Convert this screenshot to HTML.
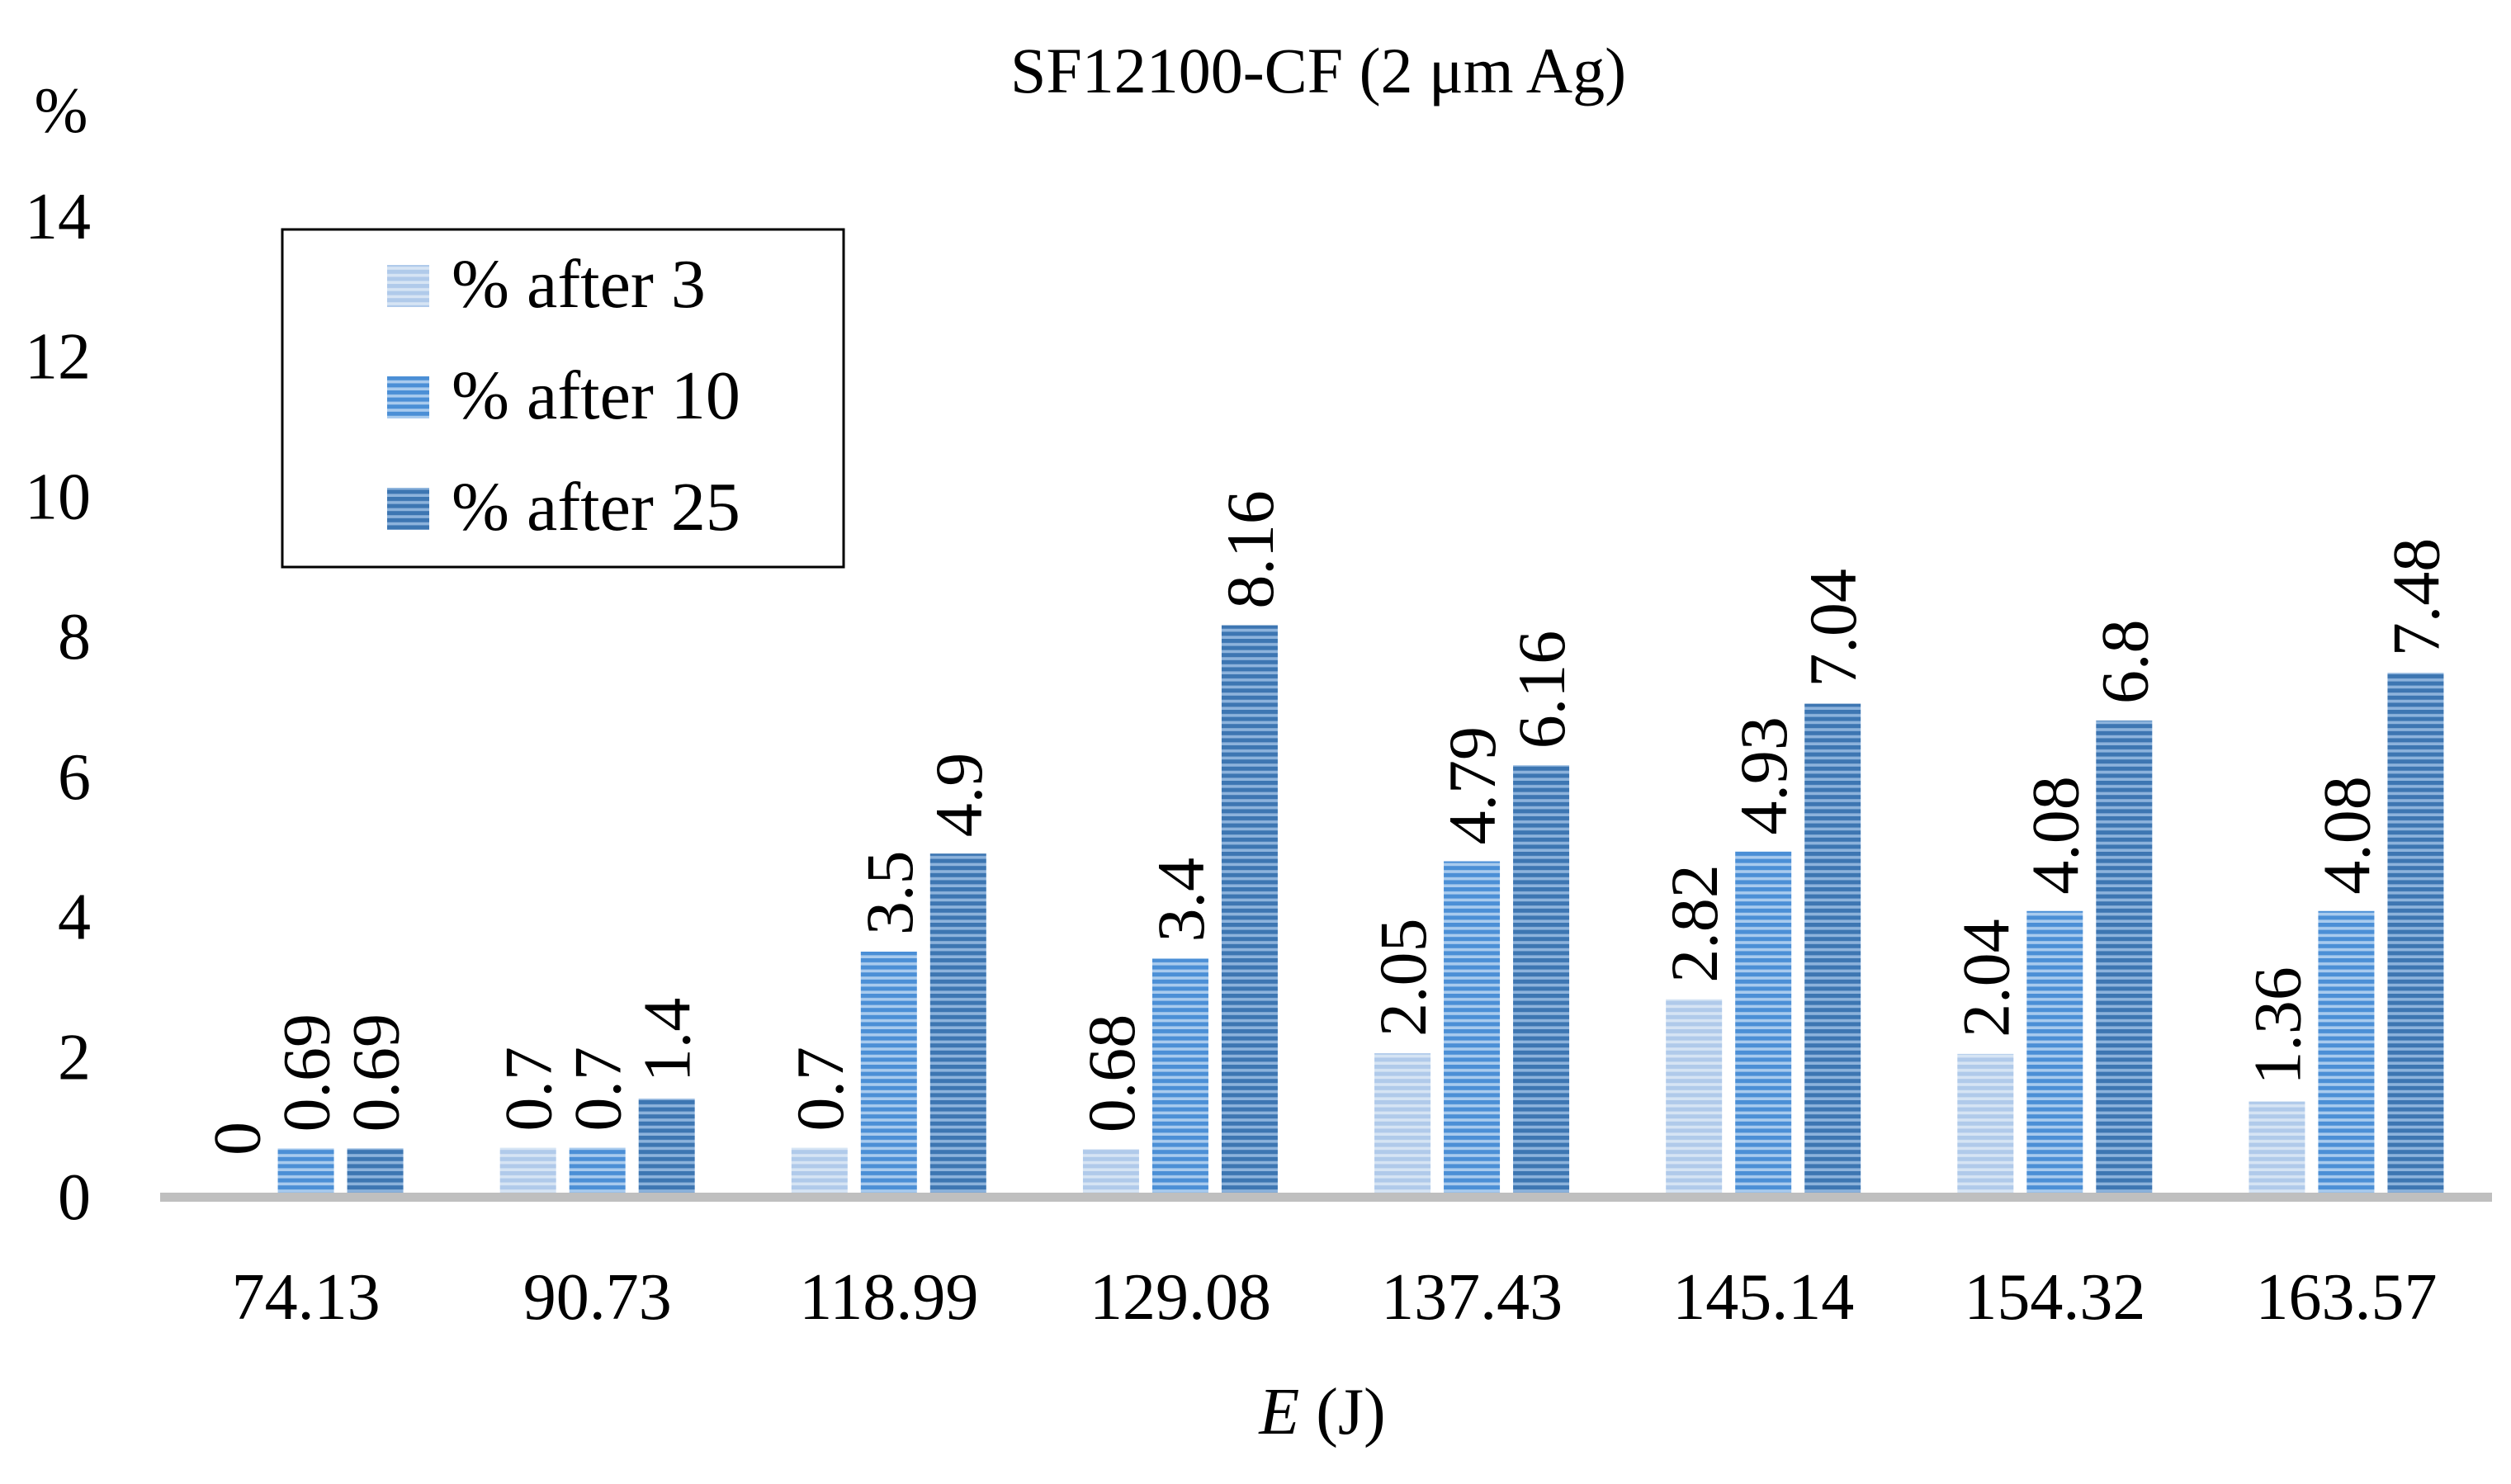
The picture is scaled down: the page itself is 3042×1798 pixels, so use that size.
<!DOCTYPE html>
<html><head><meta charset="utf-8"><style>
html,body{margin:0;padding:0;background:#fff;}
svg{display:block;font-family:"Liberation Serif",serif;}
</style></head><body>
<svg id="chart" width="3042" height="1798" viewBox="0 0 3042 1798">
<defs>
<pattern id="p0" width="20" height="8.6" patternUnits="userSpaceOnUse"><rect width="20" height="8.6" fill="#d6e4f4"/><rect width="20" height="5" fill="#b0caea"/></pattern>
<pattern id="p1" width="20" height="8.6" patternUnits="userSpaceOnUse"><rect width="20" height="8.6" fill="#a9cbee"/><rect width="20" height="5" fill="#4b8fd6"/></pattern>
<pattern id="p2" width="20" height="8.6" patternUnits="userSpaceOnUse"><rect width="20" height="8.6" fill="#8db3dc"/><rect width="20" height="5" fill="#3d76b2"/></pattern>
</defs>
<text x="1597" y="112" font-size="78" text-anchor="middle">SF12100-CF (2 μm Ag)</text>
<text x="74" y="160" font-size="78" text-anchor="middle">%</text>
<g id="yticks"></g>
<g id="bars"></g>
<g id="xlabels"></g>
<rect x="194" y="1445" width="2825" height="11" fill="#bfbfbf"/>
<text x="1602" y="1737" font-size="80" text-anchor="middle"><tspan font-style="italic">E</tspan> (J)</text>
<g>
<rect x="342" y="278" width="680" height="409" fill="#fff" stroke="#000" stroke-width="3"/>
<g><rect x="469" y="321" width="51" height="51" fill="url(#p0)"/><text x="547" y="372" font-size="84">% after 3</text></g>
<g><rect x="469" y="456" width="51" height="51" fill="url(#p1)"/><text x="547" y="507" font-size="84">% after 10</text></g>
<g><rect x="469" y="591" width="51" height="51" fill="url(#p2)"/><text x="547" y="642" font-size="84">% after 25</text></g>
</g>
</svg>
<script>
const categories = ["74.13","90.73","118.99","129.08","137.43","145.14","154.32","163.57"];
const after3 = [0, 0.7, 0.7, 0.68, 2.05, 2.82, 2.04, 1.36];
const after10 = [0.69, 0.7, 3.5, 3.4, 4.79, 4.93, 4.08, 4.08];
const after25 = [0.69, 1.4, 4.9, 8.16, 6.16, 7.04, 6.8, 7.48];
const seriesNames = ["after-3","after-10","after-25"];
const yTicks = [0, 2, 4, 6, 8, 10, 12, 14];

const NS = "http://www.w3.org/2000/svg";
const x0 = 194, plotW = 2825, yBase = 1450, yTop = 262, yMax = 14;
const band = plotW / categories.length;
function yScale(v){ return yBase - (v / yMax) * (yBase - yTop); }
function xCenter(i){ return x0 + band * (i + 0.5); }
function mk(tag, attrs){ const e = document.createElementNS(NS, tag); for (const k in attrs) e.setAttribute(k, attrs[k]); return e; }

const yg = document.getElementById('yticks');
yTicks.forEach(t => {
  const tx = mk('text', {x: 110, y: yScale(t) + 27, 'font-size': 80, 'text-anchor': 'end'});
  tx.textContent = t;
  
  
  yg.appendChild(tx);
});

const series = [after3, after10, after25];
const barW = 68, step = 84;
const bg = document.getElementById('bars');
series.forEach((vals, s) => {
  vals.forEach((v, i) => {
    const cx = xCenter(i) + (s - 1) * step;
    const yt = yScale(v);
    if (v > 0) {
      const r = mk('rect', {x: cx - barW/2, y: yt, width: barW, height: yBase - yt, fill: 'url(#p' + s + ')'});
      
      
      bg.appendChild(r);
    }
    const lx = cx + 28, ly = yt - (v > 0 ? 20 : 50);
    const lt = mk('text', {x: lx, y: ly, 'font-size': 82, transform: 'rotate(-90 ' + lx + ' ' + ly + ')'});
    lt.textContent = String(v);
    
    
    bg.appendChild(lt);
  });
});

const xg = document.getElementById('xlabels');
categories.forEach((c, i) => {
  const t = mk('text', {x: xCenter(i), y: 1598, 'font-size': 80, 'text-anchor': 'middle'});
  t.textContent = c;
  
  
  xg.appendChild(t);
});
</script>
</body></html>
